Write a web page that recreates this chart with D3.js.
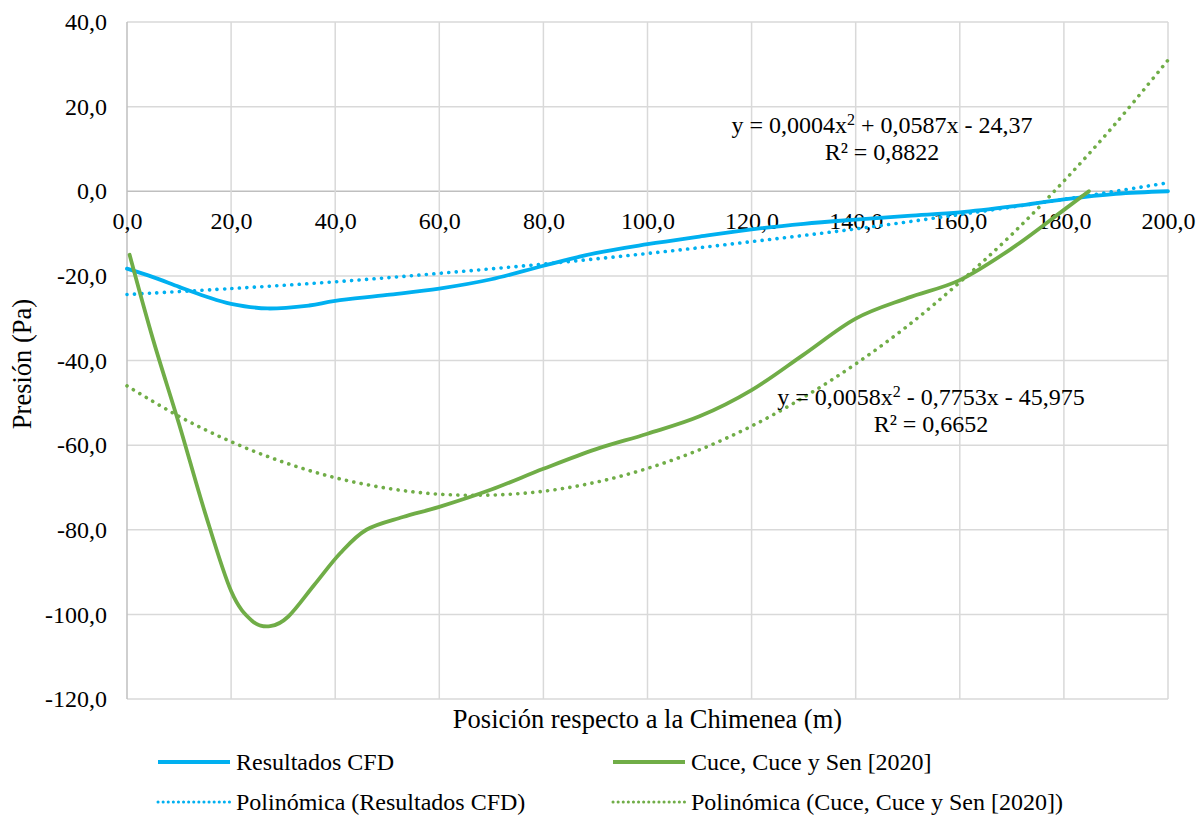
<!DOCTYPE html>
<html><head><meta charset="utf-8">
<script src="https://cdn.jsdelivr.net/npm/d3@7"></script>
</head><body style="margin:0;background:#fff">
<svg id="chart" width="1197" height="816"></svg>
<script>
// ---- data ----
const xTicks = [0,20,40,60,80,100,120,140,160,180,200];
const yTicks = [-120,-100,-80,-60,-40,-20,0,20,40];

const cfdX = [0,5,10,15,20,27,35,40,50,60,70,80,90,100,110,120,130,140,150,160,170,180,190,200];
const cfdY = [-18.3,-20.3,-22.6,-24.8,-26.6,-27.7,-27.0,-25.9,-24.5,-23.0,-20.8,-17.6,-14.6,-12.5,-10.7,-9.0,-7.7,-6.7,-5.8,-5.0,-3.6,-1.9,-0.6,0.0];

const cuceX = [0.5,5,10,15,20,24,27.5,31,36,41,46,53,60,70,80,90,100,110,120,130,140,150,160,170,180,184.8];
const cuceY = [-15,-35,-55,-76,-94.5,-101.5,-102.8,-100.5,-93,-85.5,-80,-77,-74.6,-70.5,-65.6,-61,-57.3,-53.2,-47,-38.6,-30.1,-25.2,-21,-13.5,-4.4,0];

const trendCfdX = [0,20,40,60,80,100,120,140,160,180,200];
const trendCfdY = [-24.4,-23.0,-21.4,-19.4,-17.2,-14.7,-11.9,-8.9,-5.5,-1.9,2.0];

const trendCuceX = [0,10,20,30,40,50,60,70,80,90,100,110,120,130,140,150,160,170,180,190,200];
const trendCuceY = [-46.0,-53.2,-59.2,-64.0,-67.7,-70.2,-71.6,-71.8,-70.9,-68.8,-65.5,-61.1,-55.5,-48.7,-40.8,-31.8,-21.5,-10.2,2.4,16.1,31.0];

const seriesNames = ["Resultados CFD","Cuce, Cuce y Sen [2020]","Polinómica (Resultados CFD)","Polinómica (Cuce, Cuce y Sen [2020])"];
const eqCfd = ["y = 0,0004x", "2", " + 0,0587x - 24,37", "R² = 0,8822"];
const eqCuce = ["y = 0,0058x", "2", " - 0,7753x - 45,975", "R² = 0,6652"];

// ---- drawing ----
const FONT = "'Liberation Serif'";
const blue = "#00B0F0", green = "#70AD47";
const svg = d3.select("#chart");
const x = d3.scaleLinear().domain([0,200]).range([127,1168]);
const y = d3.scaleLinear().domain([-120,40]).range([699,22]);
const loc = d3.formatLocale({decimal:",",thousands:".",grouping:[3],currency:["",""],minus:"-"});
const fmt = loc.format(".1f");
const FS = 24, TS = 26.5;
const txt = sel => sel.style("font-family",FONT).style("fill","#000");

// grid
svg.append("g").selectAll("line").data(yTicks).join("line")
  .attr("x1",x(0)).attr("x2",x(200)).attr("y1",d=>y(d)).attr("y2",d=>y(d))
  .attr("stroke",d=>d===0?"#BFBFBF":"#D9D9D9").attr("stroke-width",1.5);
svg.append("g").selectAll("line").data(xTicks).join("line")
  .attr("x1",d=>x(d)).attr("x2",d=>x(d)).attr("y1",y(40)).attr("y2",y(-120))
  .attr("stroke",d=>d===0?"#BFBFBF":"#D9D9D9").attr("stroke-width",1.5);

// axes labels via d3 axes
const yAxis = svg.append("g").attr("transform",`translate(${x(0)-20},0)`)
  .call(d3.axisLeft(y).tickValues(yTicks).tickFormat(fmt).tickSize(0).tickPadding(0));
yAxis.select(".domain").remove();
yAxis.selectAll("text").attr("font-size",FS).call(txt);

const xAxis = svg.append("g").attr("transform",`translate(0,${y(0)+21})`)
  .call(d3.axisBottom(x).tickValues(xTicks).tickFormat(fmt).tickSize(0).tickPadding(0));
xAxis.select(".domain").remove();
xAxis.selectAll("text").attr("font-size",FS).call(txt);

// lines
const line = d3.line().curve(d3.curveCardinal.tension(0)).x(d=>x(d[0])).y(d=>y(d[1]));
const zip = (a,b)=>a.map((v,i)=>[v,b[i]]);
const dotted = "0.1,7.4";
svg.append("path").attr("d",line(zip(trendCuceX,trendCuceY))).attr("fill","none")
  .attr("stroke",green).attr("stroke-width",3.6).attr("stroke-dasharray",dotted).attr("stroke-linecap","round");
svg.append("path").attr("d",line(zip(trendCfdX,trendCfdY))).attr("fill","none")
  .attr("stroke",blue).attr("stroke-width",3.6).attr("stroke-dasharray",dotted).attr("stroke-linecap","round");
svg.append("path").attr("d",line(zip(cfdX,cfdY))).attr("fill","none")
  .attr("stroke",blue).attr("stroke-width",3.8).attr("stroke-linecap","round");
svg.append("path").attr("d",line(zip(cuceX,cuceY))).attr("fill","none")
  .attr("stroke",green).attr("stroke-width",3.8).attr("stroke-linecap","round");

// equation labels
function eq(lbl, cx, cy){
  const t = svg.append("text").attr("x",cx).attr("y",cy).attr("text-anchor","middle").attr("font-size",FS).call(txt);
  t.append("tspan").text(lbl[0]);
  t.append("tspan").attr("dy",-8).attr("font-size",16).text(lbl[1]);
  t.append("tspan").attr("dy",8).text(lbl[2]);
  svg.append("text").attr("x",cx).attr("y",cy+27).attr("text-anchor","middle").attr("font-size",FS).text(lbl[3]).call(txt);
}
eq(eqCfd, 882, 133);
eq(eqCuce, 931, 405);

// axis titles
svg.append("text").attr("x",(x(0)+x(200))/2).attr("y",728).attr("text-anchor","middle")
  .attr("font-size",TS).text("Posición respecto a la Chimenea (m)").call(txt);
svg.append("text").attr("transform","translate(31,364) rotate(-90)").attr("text-anchor","middle")
  .attr("font-size",TS).text("Presión (Pa)").call(txt);

// legend
const leg = [
  {n:seriesNames[0],c:blue,d:null,x:158,y:762},
  {n:seriesNames[1],c:green,d:null,x:613,y:762},
  {n:seriesNames[2],c:blue,d:"0.1,5",x:158,y:802},
  {n:seriesNames[3],c:green,d:"0.1,5",x:613,y:802}
];
const lg = svg.append("g").selectAll("g").data(leg).join("g");
lg.append("line").attr("x1",d=>d.x).attr("x2",d=>d.x+72).attr("y1",d=>d.y).attr("y2",d=>d.y)
  .attr("stroke",d=>d.c).attr("stroke-width",d=>d.d?3:3.8)
  .attr("stroke-dasharray",d=>d.d).attr("stroke-linecap",d=>d.d?"round":"butt");
lg.append("text").attr("x",d=>d.x+78).attr("y",d=>d.y+8).attr("font-size",FS).text(d=>d.n).call(txt);
</script></body></html>
